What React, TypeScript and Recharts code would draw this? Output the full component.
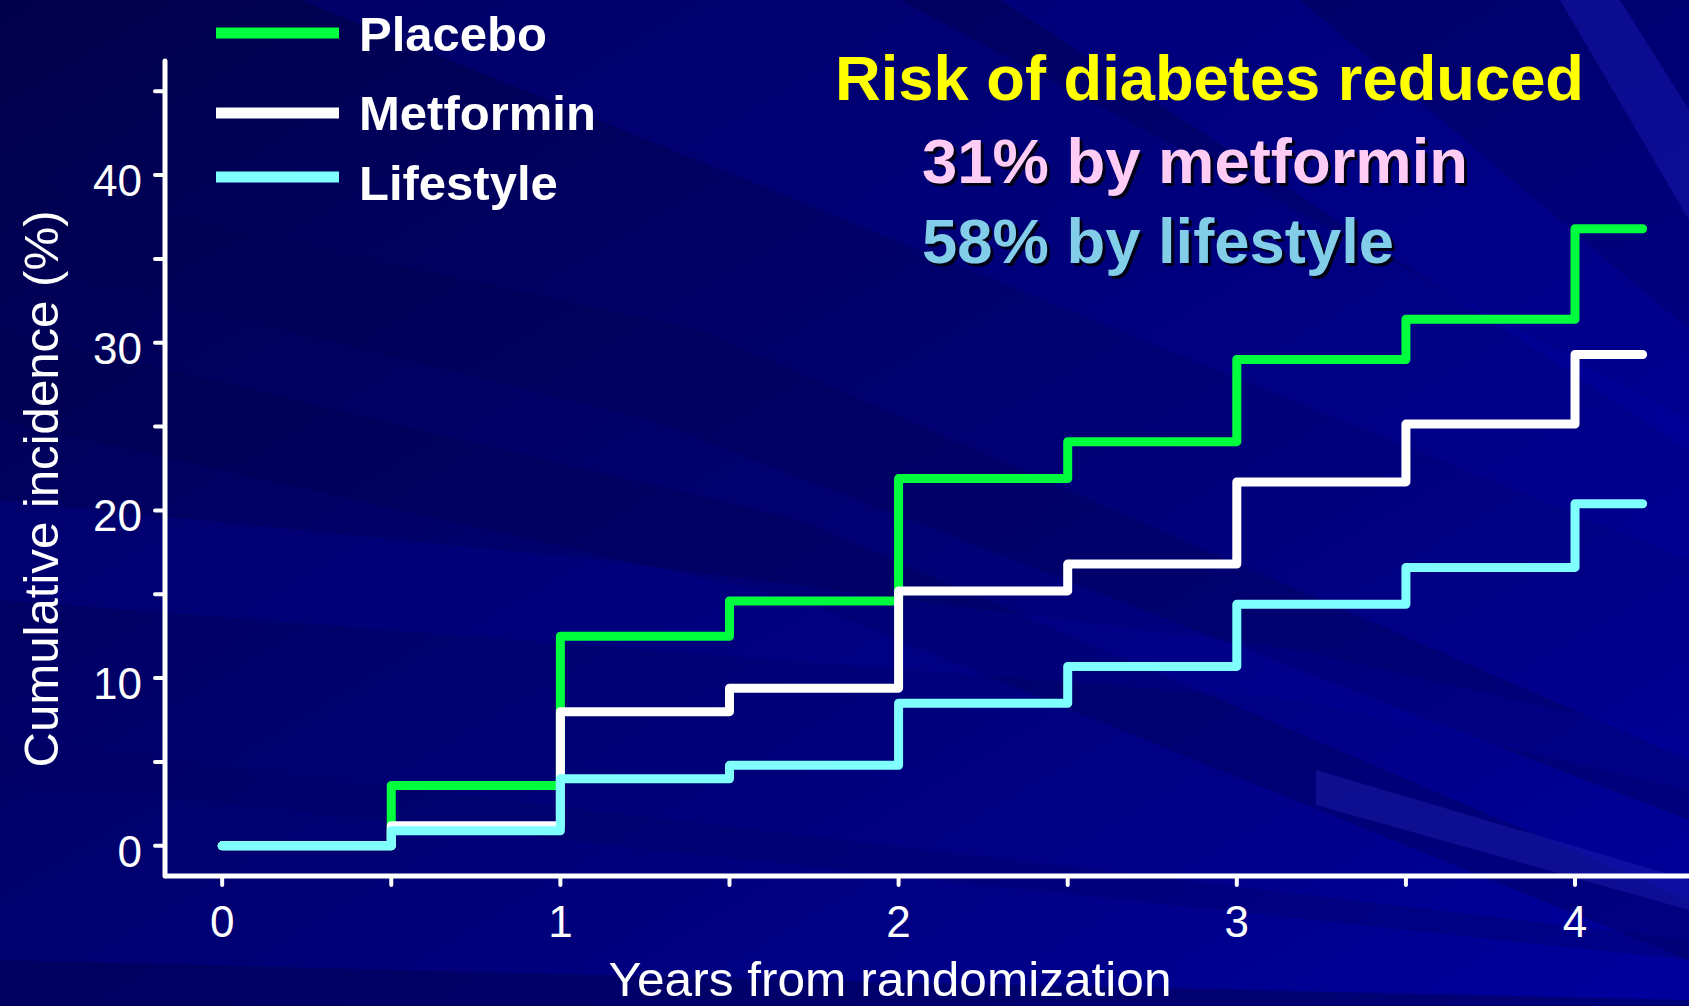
import React from 'react';
import { LineChart, Line, XAxis, YAxis } from 'recharts';

// ---- data ----
const years = [0, 0.5, 1, 1.5, 2, 2.5, 3, 3.5, 4, 4.2];
const placebo = [0, 3.6, 12.5, 14.6, 21.9, 24.1, 29.0, 31.4, 36.8, 36.8];
const metformin = [0, 1.2, 8.0, 9.4, 15.2, 16.8, 21.7, 25.15, 29.3, 29.3];
const lifestyle = [0, 0.9, 4.0, 4.8, 8.5, 10.7, 14.4, 16.6, 20.4, 20.4];

const xTicks = [0, 0.5, 1, 1.5, 2, 2.5, 3, 3.5, 4];
const yTicks = [0, 5, 10, 15, 20, 25, 30, 35, 40, 45];

const seriesNames = ['Placebo', 'Metformin', 'Lifestyle'];
const seriesKeys = ['placebo', 'metformin', 'lifestyle'];
const seriesColors = ['#00FF3C', '#FFFFFF', '#80FFFF'];

const titleLine = 'Risk of diabetes reduced';
const noteMetformin = '31% by metformin';
const noteLifestyle = '58% by lifestyle';
const xLabel = 'Years from randomization';
const yLabel = 'Cumulative incidence (%)';

const data = years.map((x, i) => ({
  x,
  placebo: placebo[i],
  metformin: metformin[i],
  lifestyle: lifestyle[i],
}));

const FONT = '"Liberation Sans", Arial, Helvetica, sans-serif';
const W = 1689;
const H = 1006;

const XTick = (props: any) => {
  const { x, y, payload } = props;
  const v = payload.value;
  if (Math.abs(v - Math.round(v)) > 1e-6) return <g />;
  return (
    <text x={x} y={y + 52} textAnchor="middle" fill="#FFFFFF" fontSize={44} fontFamily={FONT}>
      {String(v)}
    </text>
  );
};

const YTick = (props: any) => {
  const { x, y, payload } = props;
  const v = payload.value;
  if (v % 10 !== 0) return <g />;
  return (
    <text x={x - 13} y={y + 21} textAnchor="end" fill="#FFFFFF" fontSize={44} fontFamily={FONT}>
      {String(v)}
    </text>
  );
};

const LegendBlock = () => {
  const lineY = [33, 113, 177];
  const textY = [51, 130, 200];
  return (
    <g>
      {seriesNames.map((n, i) => (
        <g key={n}>
          <line x1={216} x2={339} y1={lineY[i]} y2={lineY[i]} stroke={seriesColors[i]} strokeWidth={11} />
          <text x={359} y={textY[i]} fill="#FFFFFF" fontSize={49} fontWeight="bold" fontFamily={FONT}>
            {n}
          </text>
        </g>
      ))}
    </g>
  );
};

const Background = () => (
  <svg width={W} height={H} style={{ position: 'absolute', left: 0, top: 0 }}>
    <defs>
      <linearGradient id="bg" x1="0" y1="0" x2="1" y2="1">
        <stop offset="0%" stopColor="#00004a" />
        <stop offset="35%" stopColor="#000066" />
        <stop offset="65%" stopColor="#00007e" />
        <stop offset="100%" stopColor="#00009e" />
      </linearGradient>
    </defs>
    <rect x={0} y={0} width={W} height={H} fill="url(#bg)" />
    <polygon points="0,180 700,330 1689,760 1689,820 650,420 0,260" fill="#000050" opacity={0.35} />
    <polygon points="0,330 800,520 1689,900 1689,960 800,600 0,420" fill="#000048" opacity={0.3} />
    <polygon points="300,0 900,0 1689,420 1689,560" fill="#0000a8" opacity={0.25} />
    <polygon points="1000,0 1300,0 1689,330 1689,450" fill="#0000b0" opacity={0.3} />
    <polygon points="1560,0 1620,0 1689,110 1689,220" fill="#1818b0" opacity={0.5} />
    <polygon points="1316,770 1689,880 1689,910 1316,805" fill="#2020b0" opacity={0.45} />
    <polygon points="0,500 600,560 1300,650 1689,740 1689,790 1300,700 0,600" fill="#0000a0" opacity={0.25} />
    <polygon points="0,960 800,980 1689,1000 1689,1006 0,1006" fill="#000050" opacity={0.5} />
    <polygon points="0,780 1689,960 1689,940 0,740" fill="#000060" opacity={0.3} />
  </svg>
);

const Overlay = () => (
  <svg width={W} height={H} style={{ position: 'absolute', left: 0, top: 0, pointerEvents: 'none' }}>
    <LegendBlock />
    <text x={1209.5} y={100} textAnchor="middle" fill="#FFFF00" fontSize={63} fontWeight="bold" fontFamily={FONT}
      textLength={749} lengthAdjust="spacingAndGlyphs">
      {titleLine}
    </text>
    <text x={925} y={186} fill="#000018" fontSize={63} fontWeight="bold" fontFamily={FONT}
      textLength={546} lengthAdjust="spacingAndGlyphs">
      {noteMetformin}
    </text>
    <text x={922} y={183} fill="#FFCCF6" fontSize={63} fontWeight="bold" fontFamily={FONT}
      textLength={546} lengthAdjust="spacingAndGlyphs">
      {noteMetformin}
    </text>
    <text x={925} y={266} fill="#000018" fontSize={63} fontWeight="bold" fontFamily={FONT}
      textLength={472} lengthAdjust="spacingAndGlyphs">
      {noteLifestyle}
    </text>
    <text x={922} y={263} fill="#82CDE8" fontSize={63} fontWeight="bold" fontFamily={FONT}
      textLength={472} lengthAdjust="spacingAndGlyphs">
      {noteLifestyle}
    </text>
    <text x={890} y={996} textAnchor="middle" fill="#FFFFFF" fontSize={49} fontFamily={FONT}
      textLength={563} lengthAdjust="spacingAndGlyphs">
      {xLabel}
    </text>
    <text x={0} y={0} transform="translate(58,489) rotate(-90)" textAnchor="middle" fill="#FFFFFF" fontSize={49}
      fontFamily={FONT} textLength={557} lengthAdjust="spacingAndGlyphs">
      {yLabel}
    </text>
  </svg>
);

export default function App() {
  return (
    <div style={{ position: 'absolute', left: 0, top: 0, width: W, height: H, overflow: 'hidden' }}>
      <Background />
      <div style={{ position: 'absolute', left: 0, top: 0 }}>
        <LineChart width={W} height={H} data={data} margin={{ top: 61, right: 0, bottom: 0, left: 0 }}>
          <XAxis
            type="number"
            dataKey="x"
            domain={[-0.169, 4.337]}
            ticks={xTicks}
            allowDataOverflow
            height={130}
            axisLine={{ stroke: '#FFFFFF', strokeWidth: 5 }}
            tickLine={{ stroke: '#FFFFFF', strokeWidth: 4, strokeLinecap: 'round' }}
            tickSize={9}
            tickMargin={0}
            tick={<XTick />}
            interval={0}
          />
          <YAxis
            type="number"
            domain={[-1.8, 46.8]}
            ticks={yTicks}
            allowDataOverflow
            width={165}
            axisLine={{ stroke: '#FFFFFF', strokeWidth: 5, strokeLinecap: 'round' }}
            tickLine={{ stroke: '#FFFFFF', strokeWidth: 4, strokeLinecap: 'round' }}
            tickSize={10}
            tickMargin={0}
            tick={<YTick />}
            interval={0}
          />
          {seriesKeys.map((k, i) => (
            <Line
              key={k}
              type="stepAfter"
              dataKey={k}
              name={seriesNames[i]}
              stroke={seriesColors[i]}
              strokeWidth={9}
              strokeLinejoin="round"
              strokeLinecap="round"
              dot={false}
              activeDot={false}
              isAnimationActive={false}
            />
          ))}
        </LineChart>
      </div>
      <Overlay />
    </div>
  );
}
